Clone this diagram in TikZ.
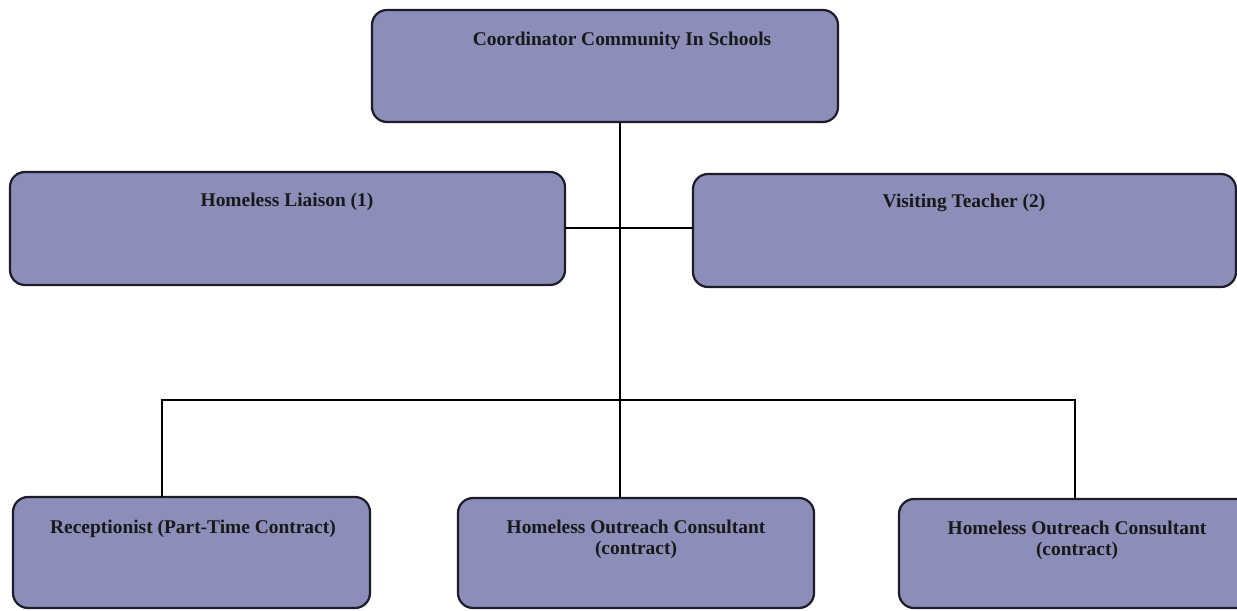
\documentclass[tikz,border=0pt]{standalone}
\usepackage{fontspec}
\setmainfont{Liberation Serif}
\definecolor{boxfill}{RGB}{140,141,184}
\definecolor{boxline}{RGB}{28,28,42}
\tikzset{
  x=1bp, y=-1bp,
  orgbox/.style={draw=boxline, line width=2.2bp, fill=boxfill, rounded corners=15bp, inner sep=0pt},
  boxtext/.style={anchor=north, inner sep=0pt, align=center, font=\fontsize{19.5}{21}\selectfont\bfseries, text=black!90},
  link/.style={draw=black, line width=1.5bp}
}
\begin{document}
\begin{tikzpicture}
\useasboundingbox (0,0) rectangle (1237,611);
% boxes
\draw[orgbox] (372,10) rectangle (838,122);
\coordinate (topS) at (620,122);
\draw[orgbox] (10,172) rectangle (565,285);
\draw[orgbox] (693,174) rectangle (1236,287);
\draw[orgbox] (13,497) rectangle (370,608);
\draw[orgbox] (458,498) rectangle (814,608);
\draw[orgbox] (899,499) rectangle (1262,608);
% texts
\node[boxtext] (ttop) at (622,32) {Coordinator Community In Schools};
\node[boxtext] (tliai) at (287,193) {Homeless Liaison (1)};
\node[boxtext] (tvis) at (964,194) {Visiting Teacher (2)};
\node[boxtext] (trec) at (193,520) {Receptionist (Part-Time Contract)};
\node[boxtext] (tmid) at (636,520) {Homeless Outreach Consultant\\(contract)};
\node[boxtext] (tright) at (1077,521) {Homeless Outreach Consultant\\(contract)};
% connector points
\coordinate (liaiE) at (565,228);
\coordinate (visW) at (693,228);
\coordinate (midN) at (620,498);
\coordinate (recN) at (162,497);
\coordinate (rightN) at (1075,499);
\coordinate (busL) at (162,400);
\coordinate (busR) at (1075,400);
% connectors
\draw[link] (topS) -- (midN);
\draw[link] (liaiE) -- (visW);
\draw[link] (recN) -- (busL) -- (busR) -- (rightN);
\end{tikzpicture}
\end{document}
